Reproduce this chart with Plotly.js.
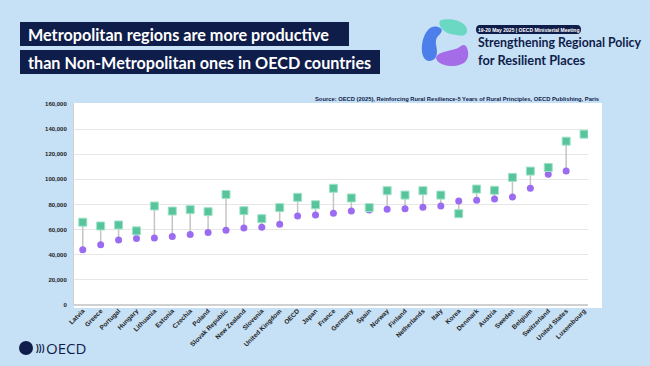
<!DOCTYPE html>
<html>
<head>
<meta charset="utf-8">
<script src="https://cdn.plot.ly/plotly-3.0.1.min.js"></script>
<style>html,body{margin:0;padding:0;background:#c6e0f6;}#chart{width:650px;height:366px;}</style>
</head>
<body>
<div id="chart"></div>
<script>
// ---- data ----
const countries = ["Latvia","Greece","Portugal","Hungary","Lithuania","Estonia","Czechia","Poland","Slovak Republic","New Zealand","Slovenia","United Kingdom","OECD","Japan","France","Germany","Spain","Norway","Finland","Netherlands","Italy","Korea","Denmark","Austria","Sweden","Belgium","Switzerland","United States","Luxembourg"];
const metro = [65900,62900,63700,59000,78800,74800,75900,74300,88000,75100,68700,77500,85700,79800,92900,85200,77500,91000,87500,91000,87500,72700,92300,91300,101600,106600,109500,130400,136000];
const nonMetro = [43900,47900,51800,52900,53400,54500,56100,57700,59500,61300,61900,64300,70900,71700,73000,74800,75600,76200,76700,77800,78800,82800,83300,84400,85900,92900,104000,106600,null];
const yTicks = [0,20000,40000,60000,80000,100000,120000,140000,160000];

// ---- helpers (pixel -> paper) ----
const L=74, R=588, T=104, B=305;
const fx = p => (p - L) / (R - L);
const fy = p => (B - p) / (B - T);
function path(cmds){
  return cmds.map(c => {
    if (c[0]==='Z') return 'Z';
    const pts=[];
    for (let i=1;i<c.length;i+=2) pts.push(fx(c[i]).toFixed(4)+','+fy(c[i+1]).toFixed(4));
    return c[0]+' '+pts.join(' ');
  }).join(' ');
}

const NAVY = '#0f1d4a';
const SANS = 'Liberation Sans, Arial, sans-serif';
const TITLE = 'Lato, Liberation Sans, sans-serif';

// connector segments built from the data
const cx=[], cy=[];
countries.forEach((c,i)=>{
  if (nonMetro[i]!==null && metro[i]!==null){ cx.push(c,c,null); cy.push(nonMetro[i],metro[i],null); }
});

const traces = [
  {x:cx, y:cy, type:'scatter', mode:'lines', line:{color:'#c4c4c4', width:1.5}, hoverinfo:'skip', showlegend:false},
  {x:countries, y:nonMetro, type:'scatter', mode:'markers', name:'Non-metropolitan',
   marker:{symbol:'circle', size:7, color:'#9b6cf2'}, showlegend:false},
  {x:countries, y:metro, type:'scatter', mode:'markers', name:'Metropolitan',
   marker:{symbol:'square', size:8, color:'#58c49c', line:{color:'#9fe3c8', width:1}}, showlegend:false}
];

const shapes = [
  {type:'rect', xref:'paper', yref:'paper', x0:fx(74), x1:fx(602), y0:fy(308), y1:fy(103), fillcolor:'white', line:{width:0}, layer:'below'},
  {type:'rect', xref:'paper', yref:'paper', x0:fx(20), x1:fx(349), y0:fy(46), y1:fy(22), fillcolor:NAVY, line:{width:0}},
  {type:'rect', xref:'paper', yref:'paper', x0:fx(20), x1:fx(380), y0:fy(74), y1:fy(50), fillcolor:NAVY, line:{width:0}},
  {type:'path', xref:'paper', yref:'paper', fillcolor:NAVY, line:{width:0},
   path:path([['M',480,25],['L',577,25],['Q',581,25,581,29.5],['Q',581,34,577,34],['L',480,34],['Q',476,34,476,29.5],['Q',476,25,480,25],['Z']])},
  {type:'path', xref:'paper', yref:'paper', fillcolor:'#3f74ea', opacity:0.9, line:{width:0},
   path:path([['M',438,27],['C',426,23,419,44,423,56],['C',426,64,437,62,437,52],['C',437,45,433,40,440,34],['C',443,31,442,28,438,27],['Z']])},
  {type:'path', xref:'paper', yref:'paper', fillcolor:'#5fd7bd', opacity:0.9, line:{width:0},
   path:path([['M',441,20],['C',455,17,469,24,467,32],['C',465,38,458,35,451,34],['C',444,33,436,24,441,20],['Z']])},
  {type:'path', xref:'paper', yref:'paper', fillcolor:'#a05fe6', opacity:0.9, line:{width:0},
   path:path([['M',436,58],['C',438,50,454,52,461,46],['C',467,41,471,55,466,61],['C',459,69,438,67,436,58],['Z']])},
  {type:'circle', xref:'paper', yref:'paper', x0:fx(19), x1:fx(33), y0:fy(355), y1:fy(341), fillcolor:NAVY, line:{width:0}}
];

const annotations = [
  {xref:'paper', yref:'paper', x:fx(26), y:fy(34.5), xanchor:'left', yanchor:'middle', showarrow:false,
   text:'Metropolitan regions are more productive', font:{family:TITLE, size:16.2, color:'white', weight:700}},
  {xref:'paper', yref:'paper', x:fx(26), y:fy(62.5), xanchor:'left', yanchor:'middle', showarrow:false,
   text:'than Non-Metropolitan ones in OECD countries', font:{family:TITLE, size:16.2, color:'white', weight:700}},
  {xref:'paper', yref:'paper', x:fx(528.5), y:fy(29.7), xanchor:'center', yanchor:'middle', showarrow:false,
   text:'19-20 May 2025 | OECD Ministerial Meeting', font:{family:SANS, size:5, color:'white', weight:700}},
  {xref:'paper', yref:'paper', x:fx(476), y:fy(43), xanchor:'left', yanchor:'middle', showarrow:false,
   text:'Strengthening Regional Policy', font:{family:TITLE, size:12.3, color:NAVY, weight:700}},
  {xref:'paper', yref:'paper', x:fx(476), y:fy(59.5), xanchor:'left', yanchor:'middle', showarrow:false,
   text:'for Resilient Places', font:{family:TITLE, size:12.8, color:NAVY, weight:700}},
  {xref:'paper', yref:'paper', x:fx(601), y:fy(99), xanchor:'right', yanchor:'middle', showarrow:false,
   text:'Source: OECD (2025), Reinforcing Rural Resilience-5 Years of Rural Principles, OECD Publishing, Paris', font:{family:SANS, size:5.8, color:NAVY, weight:700}},
  {xref:'paper', yref:'paper', x:fx(33.5), y:fy(348), xanchor:'left', yanchor:'middle', showarrow:false,
   text:')))', font:{family:SANS, size:8.5, color:NAVY, weight:700}},
  {xref:'paper', yref:'paper', x:fx(44), y:fy(348), xanchor:'left', yanchor:'middle', showarrow:false,
   text:'OECD', font:{family:'Open Sans, sans-serif', size:15, color:NAVY}}
];

const layout = {
  width:650, height:366,
  margin:{l:L, r:650-R, t:T, b:366-B},
  paper_bgcolor:'#c6e0f6', plot_bgcolor:'white',
  showlegend:false,
  xaxis:{type:'category', range:[-0.49,28.22], tickangle:-45, showgrid:false, zeroline:false,
    showline:false, ticks:'', tickfont:{family:SANS, size:6.5, color:'#222', weight:700}, automargin:false},
  yaxis:{range:[0,160000], tickvals:yTicks, tickformat:',', showgrid:true, gridcolor:'#e6e6e6', gridwidth:1,
    zeroline:true, zerolinecolor:'#d0d0d0', zerolinewidth:2, showline:true, linecolor:'#d0d0d0', linewidth:1,
    ticks:'outside', ticklen:5, tickcolor:'rgba(0,0,0,0)',
    tickfont:{family:SANS, size:6, color:'#222', weight:700}, automargin:false},
  shapes:shapes, annotations:annotations
};

Plotly.newPlot('chart', traces, layout, {displayModeBar:false, staticPlot:true});
</script>
</body>
</html>
